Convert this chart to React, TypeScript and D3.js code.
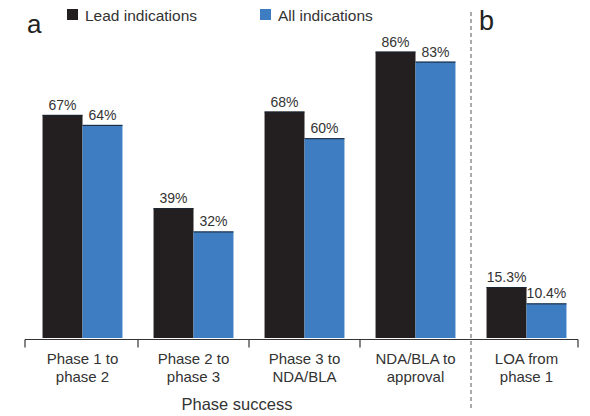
import React from "react";
import * as d3 from "d3";

// Phase transition success rates (%)
const categories = ["Phase 1 to phase 2", "Phase 2 to phase 3", "Phase 3 to NDA/BLA", "NDA/BLA to approval", "LOA from phase 1"];
const categoryLines = [
  ["Phase 1 to", "phase 2"],
  ["Phase 2 to", "phase 3"],
  ["Phase 3 to", "NDA/BLA"],
  ["NDA/BLA to", "approval"],
  ["LOA from", "phase 1"],
];
const seriesNames = ["Lead indications", "All indications"];
const leadValues = [67, 39, 68, 86, 15.3];
const allValues = [64, 32, 60, 83, 10.4];
const valueLabelsLead = ["67%", "39%", "68%", "86%", "15.3%"];
const valueLabelsAll = ["64%", "32%", "60%", "83%", "10.4%"];
const colors = ["#231f20", "#3e7dc1"];

const W = 590;
const H = 416;
const FONT = "'Liberation Sans', Arial, Helvetica, sans-serif";

export default function App() {
  const x0 = d3.scaleBand<string>().domain(categories).range([27, 582]).paddingInner(0.28).paddingOuter(0.14);
  const x1 = d3.scaleBand<string>().domain(seriesNames).range([0, x0.bandwidth()]).padding(0);
  const y = d3.scaleLinear().domain([0, 100]).range([338, 5]);

  const step = x0.step();
  const gap = step * x0.paddingInner();
  const boundaries = categories.map((c) => (x0(c) as number) - gap / 2);
  const axisY = 339.5;
  const axisStart = boundaries[0] - 2;
  const axisEnd = (x0(categories[4]) as number) + x0.bandwidth() + gap / 2 - 4;
  const dividerX = boundaries[4];
  const tickXs = [axisStart, boundaries[1], boundaries[2], boundaries[3], axisEnd];

  const series = [
    { name: seriesNames[0], values: leadValues, labels: valueLabelsLead, color: colors[0] },
    { name: seriesNames[1], values: allValues, labels: valueLabelsAll, color: colors[1] },
  ];

  return (
    <svg width={W} height={H} style={{ position: "absolute", left: 0, top: 0, background: "#fff" }} fontFamily={FONT}>
      {/* panel letters */}
      <text x={27} y={33} fontSize={26} fill="#222">a</text>
      <text x={479} y={30} fontSize={27} fill="#222">b</text>

      {/* legend */}
      <rect x={67} y={9} width={11} height={11} fill={colors[0]} />
      <text x={85} y={21} fontSize={15.5} fill="#333">{seriesNames[0]}</text>
      <rect x={260} y={9} width={11} height={11} fill={colors[1]} />
      <text x={278} y={21} fontSize={15.5} fill="#333">{seriesNames[1]}</text>

      {/* divider between panels */}
      <line x1={dividerX} x2={dividerX} y1={12} y2={410} stroke="#555" strokeWidth={1} strokeDasharray="4 3" />

      {/* bars */}
      {categories.map((c, i) => (
        <g key={c} transform={`translate(${x0(c)},0)`}>
          {series.map((s) => {
            const bx = x1(s.name) as number;
            const bw = x1.bandwidth();
            const top = y(s.values[i]);
            return (
              <g key={s.name}>
                <rect x={bx} y={top} width={bw} height={y(0) - top} fill={s.color} />
                <line x1={bx} x2={bx + bw} y1={top + 0.5} y2={top + 0.5} stroke="#1a2433" strokeWidth={1} />
                <text x={bx + bw / 2} y={top - 5} textAnchor="middle" fontSize={14} fill="#333">
                  {s.labels[i]}
                </text>
              </g>
            );
          })}
        </g>
      ))}

      {/* category axis */}
      <line x1={axisStart} x2={axisEnd} y1={axisY} y2={axisY} stroke="#333" strokeWidth={1.2} />
      {tickXs.map((tx, i) => (
        <line key={i} x1={tx} x2={tx} y1={axisY} y2={axisY + 8} stroke="#333" strokeWidth={1.2} />
      ))}
      {categories.map((c, i) => {
        const cx = (x0(c) as number) + x0.bandwidth() / 2;
        return (
          <text key={c} textAnchor="middle" fontSize={15} fill="#333">
            <tspan x={cx} y={364}>{categoryLines[i][0]}</tspan>
            <tspan x={cx} y={382}>{categoryLines[i][1]}</tspan>
          </text>
        );
      })}
      <text x={237} y={410} textAnchor="middle" fontSize={16.5} fill="#333">Phase success</text>
    </svg>
  );
}
